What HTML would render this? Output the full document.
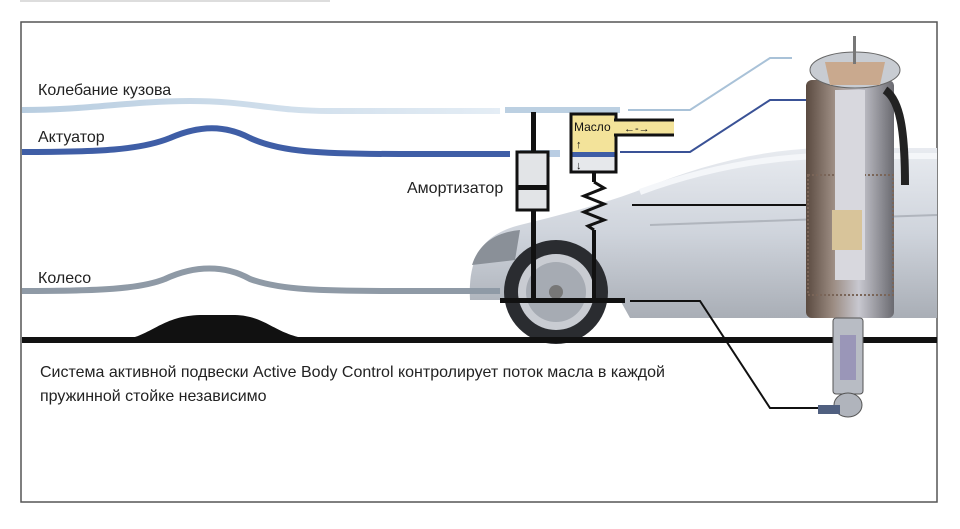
<!DOCTYPE html>
<html><head><meta charset="utf-8"><style>
html,body{margin:0;padding:0;background:#fff;}
svg{display:block;}
text{font-family:"Liberation Sans",Arial,sans-serif;}
</style></head><body>
<svg width="960" height="529" viewBox="0 0 960 529" xmlns="http://www.w3.org/2000/svg">
<defs>
<linearGradient id="car" x1="0" y1="0" x2="0" y2="1">
<stop offset="0" stop-color="#e8ebf0"/><stop offset="0.5" stop-color="#cfd4dc"/><stop offset="1" stop-color="#a9aeb6"/>
</linearGradient>
<linearGradient id="strut" x1="0" y1="0" x2="1" y2="0">
<stop offset="0" stop-color="#5a4a40"/><stop offset="0.3" stop-color="#9a8a80"/><stop offset="0.6" stop-color="#c8c8d0"/><stop offset="1" stop-color="#6a6a70"/>
</linearGradient>
<linearGradient id="fadeL" x1="0" y1="0" x2="1" y2="0">
<stop offset="0" stop-color="#b8cde0"/><stop offset="1" stop-color="#e4edf5"/>
</linearGradient>
</defs>
<rect x="0" y="0" width="960" height="529" fill="#fff"/>
<rect x="20" y="0" width="310" height="2" fill="#ddd"/>
<rect x="21" y="22" width="916" height="480" fill="none" stroke="#555" stroke-width="1.5"/>

<path d="M470,300 C468,260 480,235 520,225 C560,215 600,205 640,190 C700,165 760,150 820,148 L937,148 L937,318 L630,318 L620,300 Z" fill="url(#car)"/>
<path d="M640,192 C700,170 760,158 820,156 L937,156" fill="none" stroke="#f4f6f9" stroke-width="6"/>
<path d="M650,225 L937,215" stroke="#b0b5bd" stroke-width="2"/>
<path d="M472,265 C480,240 500,232 520,230 L515,260 Z" fill="#8a9098"/>
<circle cx="556" cy="292" r="52" fill="#2a2c30"/>
<circle cx="556" cy="292" r="38" fill="#c9ccd2"/>
<circle cx="556" cy="292" r="30" fill="#a6abb3"/>
<circle cx="556" cy="292" r="7" fill="#777"/>

<rect x="22" y="337" width="915" height="6" fill="#111"/>
<path d="M120,340 C150,338 160,316 200,315 L235,315 C270,316 275,338 320,340 Z" fill="#111"/>

<path d="M22,110 C90,110 130,101 190,101 C250,101 270,111 330,111 L500,111" fill="none" stroke="url(#fadeL)" stroke-width="6"/>
<rect x="505" y="107" width="115" height="6" fill="#bcd0e2"/>
<path d="M628,110 L690,110 L770,58 L792,58" fill="none" stroke="#a9c2d8" stroke-width="2"/>
<path d="M22,152 C100,152 140,150 170,138 C200,125 225,125 250,138 C280,152 320,154 400,154 L510,154" fill="none" stroke="#3f5ea6" stroke-width="6"/>
<rect x="520" y="150" width="40" height="7" fill="#b9cde3"/>
<path d="M620,152 L690,152 L770,100 L862,100" fill="none" stroke="#3a5296" stroke-width="2"/>
<path d="M22,291 C100,291 140,289 165,279 C195,265 225,265 250,279 C280,290 320,291 400,291 L500,291" fill="none" stroke="#8f9aa6" stroke-width="6"/>

<rect x="531" y="112" width="5" height="188" fill="#111"/>
<rect x="517" y="152" width="31" height="58" fill="#e2e4e7" stroke="#111" stroke-width="3"/>
<rect x="517" y="185" width="31" height="5" fill="#111"/>
<rect x="571" y="114" width="45" height="40" fill="#f3e39a"/>
<rect x="571" y="152" width="45" height="5" fill="#3f5ea6"/>
<rect x="571" y="157" width="45" height="15" fill="#e6e8eb"/>
<rect x="571" y="114" width="45" height="58" fill="none" stroke="#111" stroke-width="3"/>
<rect x="614" y="121" width="60" height="13" fill="#f3e39a"/>
<path d="M614,120 L674,120 M614,135 L674,135" stroke="#111" stroke-width="3"/>
<text x="574" y="131" font-size="12" fill="#111">Масло</text>
<text x="576" y="148" font-size="11" fill="#111">↑</text>
<text x="576" y="169" font-size="11" fill="#111">↓</text>
<text x="624" y="132" font-size="11" fill="#111">←-→</text>
<rect x="592" y="172" width="4" height="10" fill="#111"/>
<path d="M594,182 L604,188 L584,196 L604,204 L584,212 L604,220 L588,226 L594,230" fill="none" stroke="#111" stroke-width="3"/>
<rect x="592" y="230" width="4" height="70" fill="#111"/>
<rect x="500" y="298" width="125" height="5" fill="#111"/>
<path d="M632,205 L836,205" stroke="#111" stroke-width="2"/>
<path d="M630,301 L700,301 L770,408 L822,408" fill="none" stroke="#111" stroke-width="2"/>

<rect x="806" y="80" width="88" height="238" rx="6" fill="url(#strut)"/>
<rect x="808" y="175" width="85" height="120" fill="none" stroke="#7a6558" stroke-width="2" stroke-dasharray="2,2"/>
<rect x="835" y="90" width="30" height="190" fill="#d8d8de"/>
<rect x="832" y="210" width="30" height="40" fill="#d8c49a"/>
<ellipse cx="855" cy="70" rx="45" ry="18" fill="#c8ccd2" stroke="#666"/>
<path d="M825,62 L885,62 L880,85 L830,85 Z" fill="#c9a98e"/>
<rect x="853" y="36" width="3" height="28" fill="#777"/>
<path d="M885,90 C900,100 905,130 905,185" fill="none" stroke="#222" stroke-width="8"/>
<rect x="833" y="318" width="30" height="76" rx="3" fill="#b8bcc4" stroke="#555"/>
<rect x="840" y="335" width="16" height="45" fill="#9a96b8"/>
<ellipse cx="848" cy="405" rx="14" ry="12" fill="#b0b4bc" stroke="#555"/>
<rect x="818" y="405" width="22" height="9" fill="#506080"/>

<text x="38" y="95" font-size="16" fill="#222">Колебание кузова</text>
<text x="38" y="142" font-size="16" fill="#222">Актуатор</text>
<text x="407" y="193" font-size="16" fill="#222">Амортизатор</text>
<text x="38" y="283" font-size="16" fill="#222">Колесо</text>
<text x="40" y="377" font-size="16" fill="#222">Система активной подвески Active Body Control контролирует поток масла в каждой</text>
<text x="40" y="401" font-size="16" fill="#222">пружинной стойке независимо</text>
</svg>
</body></html>
